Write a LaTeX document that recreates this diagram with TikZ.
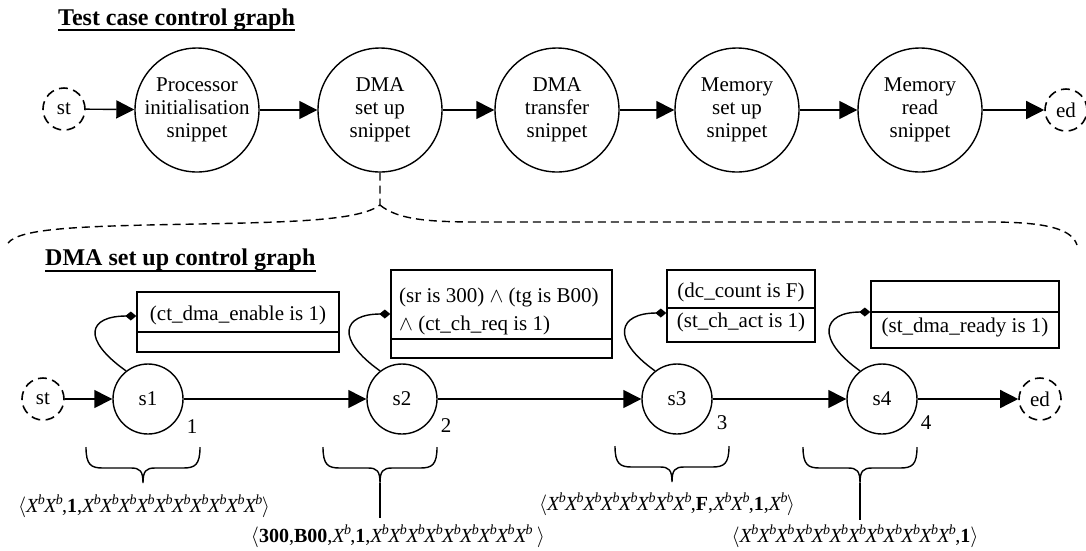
\documentclass[tikz,border=0pt]{standalone}
\usepackage{fontspec}
\setmainfont{Liberation Serif}
\usetikzlibrary{arrows.meta}

% an unknown register value: italic X with superscript b
\newcommand{\Xb}{\textit{X}\kern-1.2pt\textsuperscript{\textit{b}}\kern-1.2pt}

\begin{document}
\begin{tikzpicture}[x=1pt,y=-1pt,
  every node/.style={font=\fontsize{21}{23}\selectfont, inner sep=0pt},
  snippet/.style={draw, circle, minimum size=124pt, line width=1.4pt, align=center,
                  font=\fontsize{21}{23}\selectfont},
  state/.style={draw, circle, minimum size=70pt, line width=1.4pt},
  term/.style={draw, circle, minimum size=42pt, line width=1.6pt, dash pattern=on 9pt off 5.5pt},
  flow/.style={line width=1.4pt, -{Triangle[length=18pt,width=18pt]}},
  guard/.style={line width=1.4pt, -{Diamond[length=11pt,width=9pt]}},
  condbox/.style={draw, rectangle, line width=1.4pt},
  divider/.style={line width=1.4pt},
  title/.style={font=\fontsize{24}{26}\selectfont\bfseries, anchor=base west},
  rule/.style={line width=1.8pt},
  tuple/.style={anchor=base, font=\fontsize{20}{23}\selectfont},
  expand/.style={line width=1.4pt, dash pattern=on 8pt off 5pt},
  stemline/.style={line width=1.4pt},
  regbrace/.pic={
    \draw[line width=1.4pt] (-57,0) .. controls (-57,18) and (-52,21) .. (-40,21) -- (-12,21)
        .. controls (-3,21) and (0,24) .. (0,36)
        .. controls (0,24) and (3,21) .. (12,21) -- (40,21)
        .. controls (52,21) and (57,18) .. (57,0);
  }
]
\useasboundingbox (0,0) rectangle (1086,550);

% ---------- test case control graph ----------
\node[title] (t1title) at (58,25) {Test case control graph};
\draw[rule] (t1title.base west |- 0,30) -- (t1title.base east |- 0,30);

\node[term] (tst) at (64,109) {st};
\node[snippet] (p1) at (197,110) {Processor\\initialisation\\snippet};
\node[snippet] (p2) at (380,110) {DMA\\set up\\snippet};
\node[snippet] (p3) at (557,110) {DMA\\transfer\\snippet};
\node[snippet] (p4) at (737,110) {Memory\\set up\\snippet};
\node[snippet] (p5) at (920,110) {Memory\\read\\snippet};
\node[term] (ted) at (1066,110) {ed};

\draw[flow] (tst) -- (p1);
\draw[flow] (p1) -- (p2);
\draw[flow] (p2) -- (p3);
\draw[flow] (p3) -- (p4);
\draw[flow] (p4) -- (p5);
\draw[flow] (p5) -- (ted);

% expansion of the DMA set up snippet
\coordinate (peak) at (380,205);
\draw[expand] (p2.south) -- (peak)
  .. controls (360,220) and (300,222) .. (200,224)
  .. controls (80,226) and (20,228) .. (8,243);
\draw[expand] (peak) .. controls (398,220) and (430,222) .. (480,222) -- (990,222)
  .. controls (1050,222) and (1072,230) .. (1077,245);

% ---------- DMA set up control graph ----------
\node[title] (t2title) at (45,265) {DMA set up control graph};
\draw[rule] (t2title.base west |- 0,271) -- (t2title.base east |- 0,271);

\node[term] (st) at (43,399) {st};
\node[state] (s1) at (148,399) {s1};
\node[state] (s2) at (402,399) {s2};
\node[state] (s3) at (677,399) {s3};
\node[state] (s4) at (882,399) {s4};
\node[term] (ed) at (1040,399) {ed};

\draw[flow] (st) -- (s1);
\draw[flow] (s1) -- (s2);
\draw[flow] (s2) -- (s3);
\draw[flow] (s3) -- (s4);
\draw[flow] (s4) -- (ed);

\node (n1) at (192,427) {1};
\node (n2) at (446,426) {2};
\node (n3) at (722,423) {3};
\node (n4) at (926,423) {4};

% condition boxes: upper part = guard, lower part = status
\node[condbox, minimum width=202pt, minimum height=60pt] (c1) at (238,322) {};
\draw[divider] (c1.west |- 0,332) -- (c1.east |- 0,332);
\node[anchor=base] (c1a) at (238,320) {(ct\_dma\_enable is 1)};

\node[condbox, minimum width=221pt, minimum height=88pt] (c2) at (501.5,314) {};
\draw[divider] (c2.west |- 0,339) -- (c2.east |- 0,339);
\node[anchor=base west] (c2a) at (399,302) {(sr is 300) $\wedge$ (tg is B00)};
\node[anchor=base west] (c2b) at (399,330) {$\wedge$ (ct\_ch\_req is 1)};

\node[condbox, minimum width=148pt, minimum height=72pt] (c3) at (741,306) {};
\draw[divider] (c3.west |- 0,308) -- (c3.east |- 0,308);
\node[anchor=base] (c3a) at (741,297) {(dc\_count is F)};
\node[anchor=base] (c3b) at (741,327) {(st\_ch\_act is 1)};

\node[condbox, minimum width=188pt, minimum height=67pt] (c4) at (965,314.5) {};
\draw[divider] (c4.west |- 0,312) -- (c4.east |- 0,312);
\node[anchor=base] (c4b) at (965,332) {(st\_dma\_ready is 1)};

\draw[guard] (s1.128) .. controls +(-45,-32) and +(-48,0) .. (c1.west |- 0,316);
\draw[guard] (s2.128) .. controls +(-45,-32) and +(-48,0) .. (c2.west |- 0,314);
\draw[guard] (s3.128) .. controls +(-45,-32) and +(-48,0) .. (c3.west |- 0,313);
\draw[guard] (s4.128) .. controls +(-45,-32) and +(-48,0) .. (c4.west |- 0,312);

% register tuples of each state
\pic at (143,447) {regbrace};
\pic at (380,447) {regbrace};
\pic at (672,446) {regbrace};
\pic at (860,447) {regbrace};

\node[tuple] (r1) at (144,512) {$\langle$\Xb\Xb,\textbf{1},\Xb\Xb\Xb\Xb\Xb\Xb\Xb\Xb\Xb\Xb$\rangle$};
\node[tuple] (r2) at (398,542) {$\langle$\textbf{300},\textbf{B00},\Xb,\textbf{1},\Xb\Xb\Xb\Xb\Xb\Xb\Xb\Xb\Xb\ $\rangle$};
\node[tuple] (r3) at (667,510) {$\langle$\Xb\Xb\Xb\Xb\Xb\Xb\Xb\Xb,\textbf{F},\Xb\Xb,\textbf{1},\Xb$\rangle$};
\node[tuple] (r4) at (855,542) {$\langle$\Xb\Xb\Xb\Xb\Xb\Xb\Xb\Xb\Xb\Xb\Xb\Xb,\textbf{1}$\rangle$};

\draw[stemline] (380,483) -- (380,518);
\draw[stemline] (860,483) -- (860,520);
\end{tikzpicture}
\end{document}
